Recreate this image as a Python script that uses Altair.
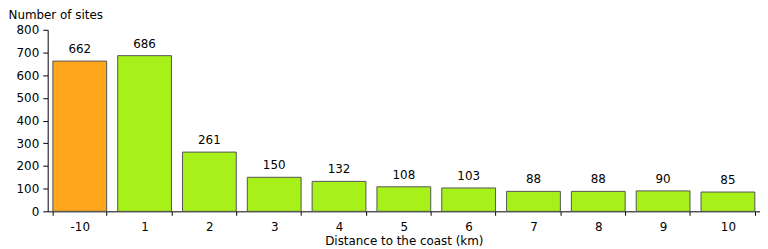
import altair as alt
import pandas as pd

categories = ["-10", "1", "2", "3", "4", "5", "6", "7", "8", "9", "10"]
values = [662, 686, 261, 150, 132, 108, 103, 88, 88, 90, 85]
highlight = [True] + [False] * 10

df = pd.DataFrame({"cat": categories, "val": values, "hl": highlight})

FONT = "DejaVu Sans"

base = alt.Chart(df).encode(
    x=alt.X("cat:N", sort=categories, title="Distance to the coast (km)",
            scale=alt.Scale(paddingInner=0.17, paddingOuter=0.08),
            axis=alt.Axis(labelAngle=0, tickBand="extent", domainColor="black",
                          tickColor="black", tickSize=4, labelPadding=6,
                          labelFontSize=12, titleFontSize=12, titleFontWeight="normal",
                          labelFont=FONT, titleFont=FONT, labelColor="black",
                          titleColor="black", titlePadding=3)),
    y=alt.Y("val:Q", scale=alt.Scale(domain=[0, 800]),
            axis=alt.Axis(values=list(range(0, 801, 100)), title="Number of sites",
                          titleAngle=0, titleAlign="left", titleBaseline="top",
                          titleX=-40, titleY=-20, titleFontSize=12, titleFontWeight="normal",
                          titleFont=FONT, labelFont=FONT, labelFontSize=12,
                          labelColor="black", titleColor="black", domainColor="black",
                          tickColor="black", tickSize=5, grid=False, labelPadding=4)),
)

bars = base.mark_bar(stroke="#555555", strokeWidth=1).encode(
    color=alt.Color("hl:N", scale=alt.Scale(domain=[True, False], range=["#FFA61C", "#A8F01A"]), legend=None)
)

text = base.mark_text(dy=-12, fontSize=12, font=FONT, color="black").encode(text="val:Q")

chart = (bars + text).properties(width=718, height=183, padding=0).configure_view(stroke=None)

chart.save("out.html", embed_options={"renderer": "svg", "actions": False})
